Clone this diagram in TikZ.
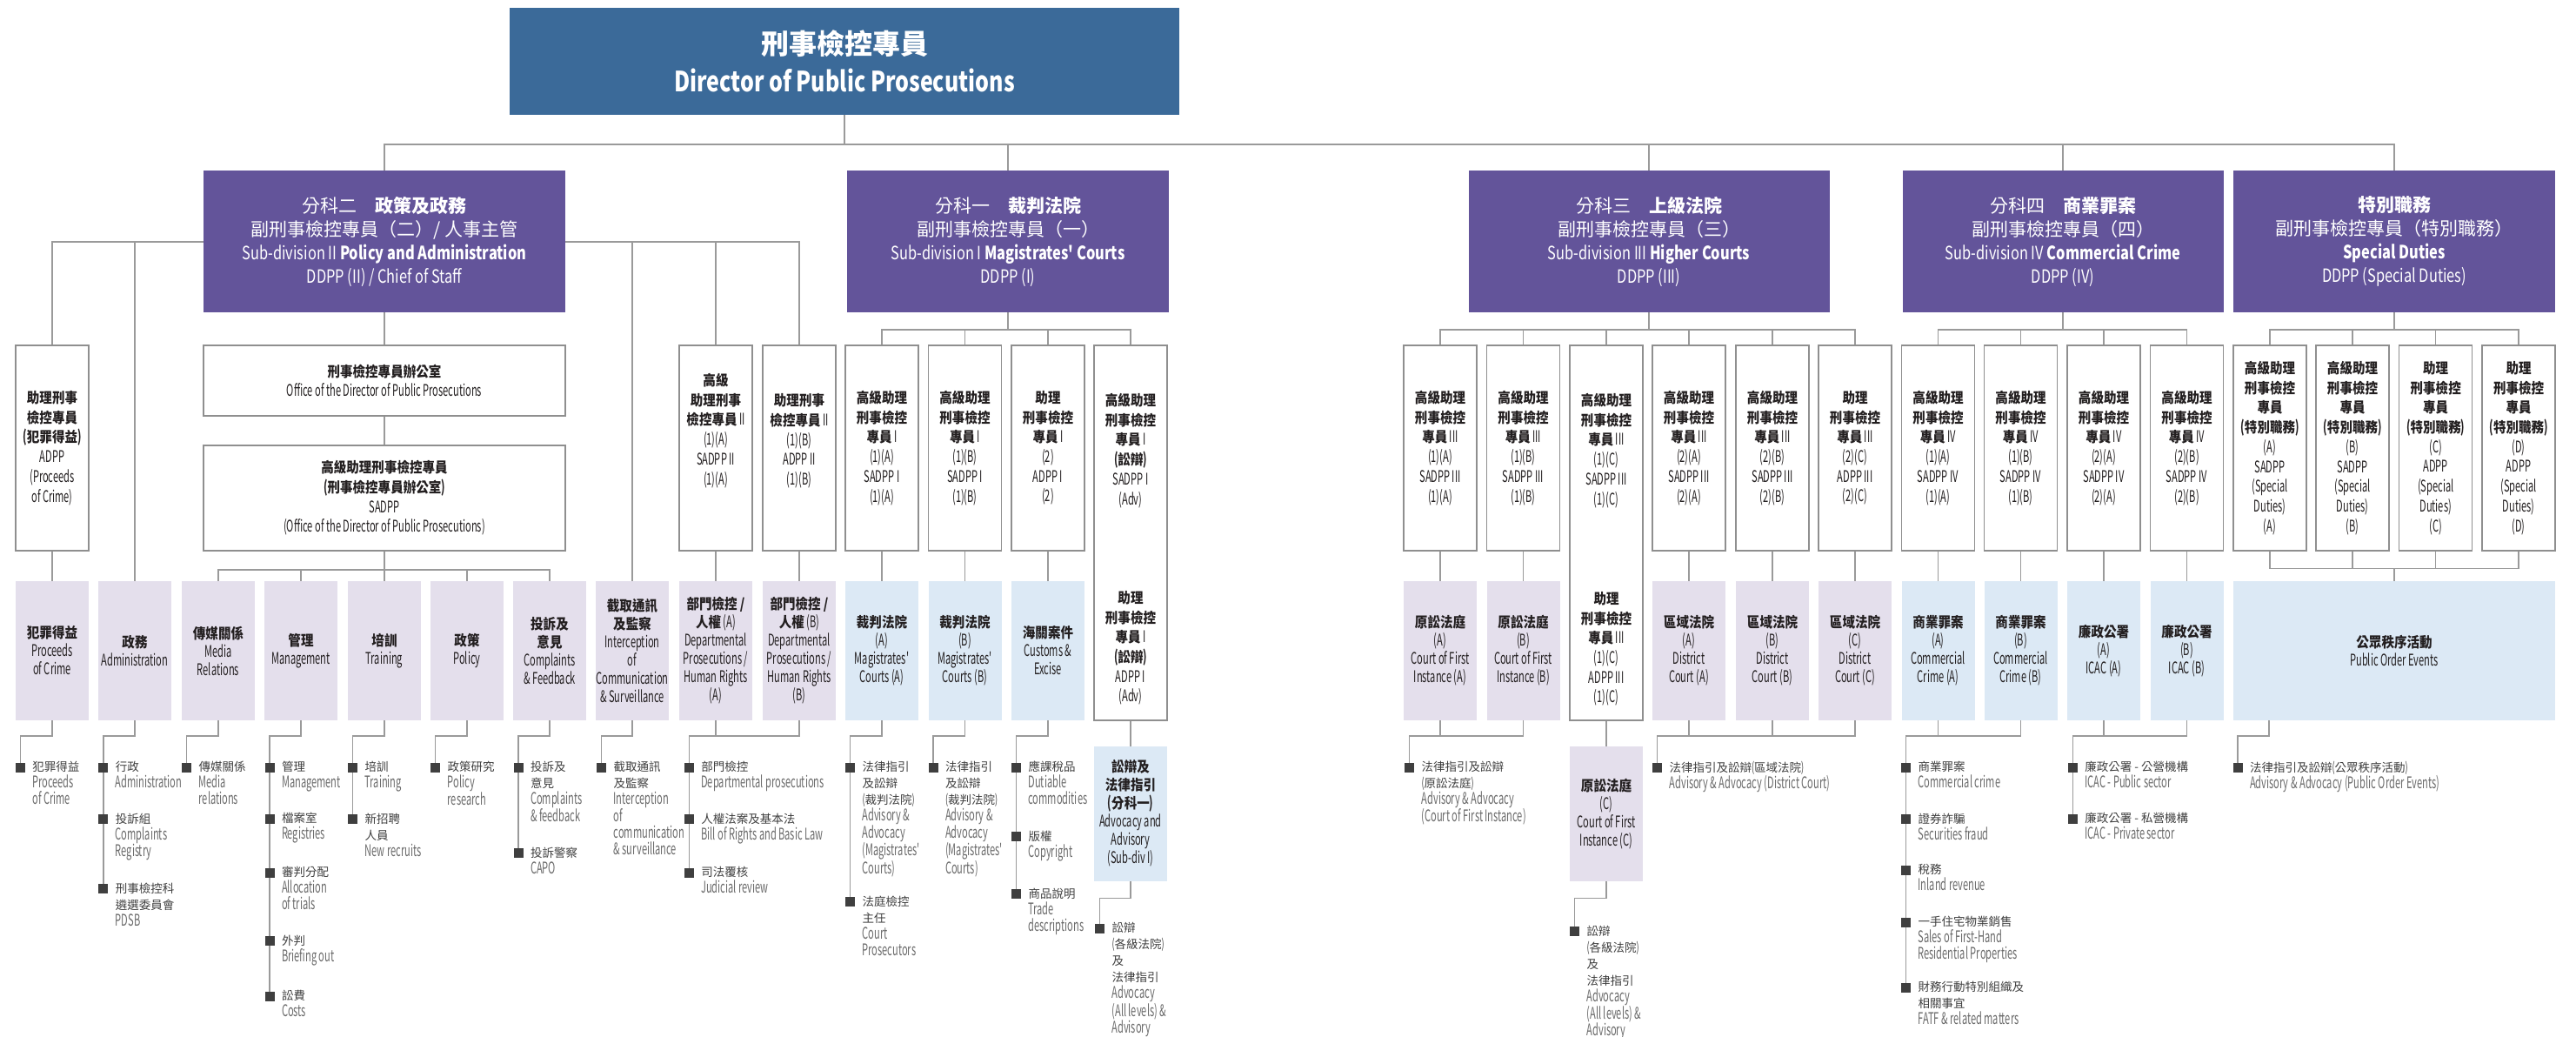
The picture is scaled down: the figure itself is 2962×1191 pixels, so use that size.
\documentclass[tikz,border=0pt]{standalone}
\usepackage{fontspec}
\setmainfont{Noto Sans CJK TC}
\newfontfamily\cjkn{Noto Sans CJK TC}[FakeStretch=0.88]
\newfontfamily\enfont{Noto Sans CJK TC}[FakeStretch=0.6, Scale=1.12]
\newfontfamily\enhfont{Noto Sans CJK TC}[FakeStretch=0.78]
\usetikzlibrary{backgrounds}

\definecolor{c3b6a99}{RGB}{59,106,153}
\definecolor{c63549a}{RGB}{99,84,154}
\definecolor{ce4dfec}{RGB}{228,223,236}
\definecolor{cdde9f5}{RGB}{220,233,245}
\definecolor{c9a9a9a}{RGB}{154,154,154}
\definecolor{c8f8f8f}{RGB}{143,143,143}
\definecolor{c3f3f3f}{RGB}{63,63,63}
\definecolor{c6b6b6b}{RGB}{107,107,107}
\definecolor{c231f20}{RGB}{35,31,32}

\newcommand\enx[1]{{\enfont #1}}
\newcommand\ehx[1]{{\enhfont #1}}
\newcommand\bex[1]{{\enfont\fontsize{16.5}{19}\selectfont\color{c6b6b6b}#1}}
\newcommand\ppx[1]{\enx{(}#1\enx{)}}
\newcommand\fbx{\cjkn\fontsize{16.5}{22.7}\selectfont}
\newcommand\fcb{\cjkn\fontsize{16.5}{21}\selectfont}
\newcommand\fhd{\fontsize{21}{27}\selectfont}
\newcommand\fbt{\fontsize{13.5}{19}\selectfont}
\newcommand\fdpp{\fontsize{32}{43.5}\selectfont}

\tikzset{
  ln/.style={draw=c9a9a9a, line width=1.5pt},
  wbox/.style={draw=c8f8f8f, line width=1.3pt, fill=white, minimum width=84pt,
    minimum height=236pt, align=center, text=c231f20, font=\fbx},
  wtxt/.style={align=center, text=c231f20, font=\fbx},
  pbox/.style={fill=ce4dfec, minimum width=84pt, minimum height=160pt,
    align=center, text=c231f20, font=\fcb},
  bbox/.style={pbox, fill=cdde9f5},
  hbox/.style={fill=c63549a, minimum height=163pt, align=center, text=white, font=\fhd},
  sq/.style={fill=c3f3f3f, minimum size=11pt},
  btxt/.style={anchor=north west, align=left, text=c3f3f3f, font=\fbt}
}

\begin{document}
\begin{tikzpicture}[x=1pt, y=1pt, yscale=-1, inner sep=0pt, outer sep=0pt]
\useasboundingbox (0,0) rectangle (2962,1191);
\coordinate (bTop) at (0,166);
\coordinate (bII) at (0,278);
\coordinate (bSub) at (0,379);
\coordinate (bOff) at (0,655);
\coordinate (bSD) at (0,653.3);
\coordinate (bBot) at (0,846);
\coordinate (bAdv) at (0,1032.3);

\node[fill=c3b6a99, minimum width=770pt, minimum height=123pt, align=center,
  text=white, font=\fdpp] (dpp) at (971,70.5)
  {\textbf{刑事檢控專員}\\\ehx{\textbf{Director of Public Prosecutions}}};

\node[hbox, minimum width=416pt] (hII) at (442,277.5) {分科二\quad\textbf{政策及政務}\\
  副刑事檢控專員（二）/ 人事主管\\\ehx{Sub-division II \textbf{Policy and Administration}}\\
  \ehx{DDPP (II) / Chief of Staff}};
\node[hbox, minimum width=370pt] (hI) at (1159,277.5) {分科一\quad\textbf{裁判法院}\\
  副刑事檢控專員（一）\\\ehx{Sub-division I \textbf{Magistrates' Courts}}\\\ehx{DDPP (I)}};
\node[hbox, minimum width=415pt] (hIII) at (1896,277.5) {分科三\quad\textbf{上級法院}\\
  副刑事檢控專員（三）\\\ehx{Sub-division III \textbf{Higher Courts}}\\\ehx{DDPP (III)}};
\node[hbox, minimum width=369pt] (hIV) at (2372,277.5) {分科四\quad\textbf{商業罪案}\\
  副刑事檢控專員（四）\\\ehx{Sub-division IV \textbf{Commercial Crime}}\\\ehx{DDPP (IV)}};
\node[hbox, minimum width=370pt] (hSD) at (2753,277.5) {\textbf{特別職務}\\
  副刑事檢控專員（特別職務）\\\ehx{\textbf{Special Duties}}\\\ehx{DDPP (Special Duties)}};

\node[wbox] (poc) at (60,515) {\textbf{助理刑事}\\\textbf{檢控專員}\\\textbf{\ppx{犯罪得益}}\\
  \enx{ADPP}\\\enx{(Proceeds}\\\enx{of Crime)}};
\node[wbox, minimum width=416pt, minimum height=81pt] (off) at (442,437.5)
  {\textbf{刑事檢控專員辦公室}\\\enx{Office of the Director of Public Prosecutions}};
\node[wbox, minimum width=416pt, minimum height=121pt] (sad) at (442,572.5)
  {\textbf{高級助理刑事檢控專員}\\\textbf{\ppx{刑事檢控專員辦公室}}\\\enx{SADPP}\\
  \enx{(Office of the Director of Public Prosecutions)}};
\node[wbox] (sIIa) at (823,515) {};
\node[wtxt] (sIIat) at (823,495) {\textbf{高級}\\\textbf{助理刑事}\\\textbf{檢控專員}\enx{ II}\\
  \enx{(1)(A)}\\\enx{SADPP II}\\\enx{(1)(A)}};
\node[wbox] (sIIb) at (919,515) {};
\node[wtxt] (sIIbt) at (919,507) {\textbf{助理刑事}\\\textbf{檢控專員}\enx{ II}\\
  \enx{(1)(B)}\\\enx{ADPP II}\\\enx{(1)(B)}};

\node[wbox] (sIa) at (1014,515) {\textbf{高級助理}\\\textbf{刑事檢控}\\\textbf{專員}\enx{ I}\\
  \enx{(1)(A)}\\\enx{SADPP I}\\\enx{(1)(A)}};
\node[wbox] (sIb) at (1109.5,515) {\textbf{高級助理}\\\textbf{刑事檢控}\\\textbf{專員}\enx{ I}\\
  \enx{(1)(B)}\\\enx{SADPP I}\\\enx{(1)(B)}};
\node[wbox] (sIc) at (1205,515) {\textbf{助理}\\\textbf{刑事檢控}\\\textbf{專員}\enx{ I}\\
  \enx{(2)}\\\enx{ADPP I}\\\enx{(2)}};
\node[wbox, minimum height=431pt] (sId) at (1300,612.5) {};
\node[wtxt] (sIdt) at (1300,518) {\textbf{高級助理}\\\textbf{刑事檢控}\\\textbf{專員}\enx{ I}\\
  \textbf{\ppx{訟辯}}\\\enx{SADPP I}\\\enx{(Adv)}};
\node[wtxt] (sIdu) at (1300,745) {\textbf{助理}\\\textbf{刑事檢控}\\\textbf{專員}\enx{ I}\\
  \textbf{\ppx{訟辯}}\\\enx{ADPP I}\\\enx{(Adv)}};

\node[wbox] (sIIIa) at (1656,515) {\textbf{高級助理}\\\textbf{刑事檢控}\\\textbf{專員}\enx{ III}\\
  \enx{(1)(A)}\\\enx{SADPP III}\\\enx{(1)(A)}};
\node[wbox] (sIIIb) at (1751.5,515) {\textbf{高級助理}\\\textbf{刑事檢控}\\\textbf{專員}\enx{ III}\\
  \enx{(1)(B)}\\\enx{SADPP III}\\\enx{(1)(B)}};
\node[wbox, minimum height=431pt] (sIIIc) at (1847,612.5) {};
\node[wtxt] (sIIIct) at (1847,518) {\textbf{高級助理}\\\textbf{刑事檢控}\\\textbf{專員}\enx{ III}\\
  \enx{(1)(C)}\\\enx{SADPP III}\\\enx{(1)(C)}};
\node[wtxt] (sIIIcu) at (1847,746) {\textbf{助理}\\\textbf{刑事檢控}\\\textbf{專員}\enx{ III}\\
  \enx{(1)(C)}\\\enx{ADPP III}\\\enx{(1)(C)}};
\node[wbox] (sIIId) at (1942,515) {\textbf{高級助理}\\\textbf{刑事檢控}\\\textbf{專員}\enx{ III}\\
  \enx{(2)(A)}\\\enx{SADPP III}\\\enx{(2)(A)}};
\node[wbox] (sIIIe) at (2038,515) {\textbf{高級助理}\\\textbf{刑事檢控}\\\textbf{專員}\enx{ III}\\
  \enx{(2)(B)}\\\enx{SADPP III}\\\enx{(2)(B)}};
\node[wbox] (sIIIf) at (2133,515) {\textbf{助理}\\\textbf{刑事檢控}\\\textbf{專員}\enx{ III}\\
  \enx{(2)(C)}\\\enx{ADPP III}\\\enx{(2)(C)}};

\node[wbox] (sIVa) at (2228.5,515) {\textbf{高級助理}\\\textbf{刑事檢控}\\\textbf{專員}\enx{ IV}\\
  \enx{(1)(A)}\\\enx{SADPP IV}\\\enx{(1)(A)}};
\node[wbox] (sIVb) at (2323.5,515) {\textbf{高級助理}\\\textbf{刑事檢控}\\\textbf{專員}\enx{ IV}\\
  \enx{(1)(B)}\\\enx{SADPP IV}\\\enx{(1)(B)}};
\node[wbox] (sIVc) at (2419,515) {\textbf{高級助理}\\\textbf{刑事檢控}\\\textbf{專員}\enx{ IV}\\
  \enx{(2)(A)}\\\enx{SADPP IV}\\\enx{(2)(A)}};
\node[wbox] (sIVd) at (2514.5,515) {\textbf{高級助理}\\\textbf{刑事檢控}\\\textbf{專員}\enx{ IV}\\
  \enx{(2)(B)}\\\enx{SADPP IV}\\\enx{(2)(B)}};

\node[wbox] (sdA) at (2610,515) {\textbf{高級助理}\\\textbf{刑事檢控}\\\textbf{專員}\\
  \textbf{\ppx{特別職務}}\\\enx{(A)}\\\enx{SADPP}\\\enx{(Special}\\\enx{Duties)}\\\enx{(A)}};
\node[wbox] (sdB) at (2705,515) {\textbf{高級助理}\\\textbf{刑事檢控}\\\textbf{專員}\\
  \textbf{\ppx{特別職務}}\\\enx{(B)}\\\enx{SADPP}\\\enx{(Special}\\\enx{Duties)}\\\enx{(B)}};
\node[wbox] (sdC) at (2800.7,515) {\textbf{助理}\\\textbf{刑事檢控}\\\textbf{專員}\\
  \textbf{\ppx{特別職務}}\\\enx{(C)}\\\enx{ADPP}\\\enx{(Special}\\\enx{Duties)}\\\enx{(C)}};
\node[wbox] (sdD) at (2896,515) {\textbf{助理}\\\textbf{刑事檢控}\\\textbf{專員}\\
  \textbf{\ppx{特別職務}}\\\enx{(D)}\\\enx{ADPP}\\\enx{(Special}\\\enx{Duties)}\\\enx{(D)}};

\node[pbox] (pocC) at (60,748) {\textbf{犯罪得益}\\\enx{Proceeds}\\\enx{of Crime}};
\node[pbox] (adm) at (155,748) {\textbf{政務}\\\enx{Administration}};
\node[pbox] (med) at (251,748) {\textbf{傳媒關係}\\\enx{Media}\\\enx{Relations}};
\node[pbox] (mgt) at (346,748) {\textbf{管理}\\\enx{Management}};
\node[pbox] (trn) at (442,748) {\textbf{培訓}\\\enx{Training}};
\node[pbox] (pol) at (537,748) {\textbf{政策}\\\enx{Policy}};
\node[pbox] (cpl) at (632,748) {\textbf{投訴及}\\\textbf{意見}\\\enx{Complaints}\\\enx{\& Feedback}};
\node[pbox] (ics) at (727,748) {\textbf{截取通訊}\\\textbf{及監察}\\\enx{Interception}\\\enx{of}\\
  \enx{Communication}\\\enx{\& Surveillance}};
\node[pbox] (dpA) at (823,748) {\textbf{部門檢控 /}\\\textbf{人權}\enx{ (A)}\\\enx{Departmental}\\
  \enx{Prosecutions /}\\\enx{Human Rights}\\\enx{(A)}};
\node[pbox] (dpB) at (919,748) {\textbf{部門檢控 /}\\\textbf{人權}\enx{ (B)}\\\enx{Departmental}\\
  \enx{Prosecutions /}\\\enx{Human Rights}\\\enx{(B)}};
\node[bbox] (mcA) at (1014,748) {\textbf{裁判法院}\\\enx{(A)}\\\enx{Magistrates'}\\\enx{Courts (A)}};
\node[bbox] (mcB) at (1109.5,748) {\textbf{裁判法院}\\\enx{(B)}\\\enx{Magistrates'}\\\enx{Courts (B)}};
\node[bbox] (cus) at (1205,748) {\textbf{海關案件}\\\enx{Customs \&}\\\enx{Excise}};
\node[pbox] (cfA) at (1656,748) {\textbf{原訟法庭}\\\enx{(A)}\\\enx{Court of First}\\\enx{Instance (A)}};
\node[pbox] (cfB) at (1751.5,748) {\textbf{原訟法庭}\\\enx{(B)}\\\enx{Court of First}\\\enx{Instance (B)}};
\node[pbox] (dcA) at (1942,748) {\textbf{區域法院}\\\enx{(A)}\\\enx{District}\\\enx{Court (A)}};
\node[pbox] (dcB) at (2038,748) {\textbf{區域法院}\\\enx{(B)}\\\enx{District}\\\enx{Court (B)}};
\node[pbox] (dcC) at (2133,748) {\textbf{區域法院}\\\enx{(C)}\\\enx{District}\\\enx{Court (C)}};
\node[bbox] (ccA) at (2228.5,748) {\textbf{商業罪案}\\\enx{(A)}\\\enx{Commercial}\\\enx{Crime (A)}};
\node[bbox] (ccB) at (2323.5,748) {\textbf{商業罪案}\\\enx{(B)}\\\enx{Commercial}\\\enx{Crime (B)}};
\node[bbox] (icA) at (2419,748) {\textbf{廉政公署}\\\enx{(A)}\\\enx{ICAC (A)}};
\node[bbox] (icB) at (2514.5,748) {\textbf{廉政公署}\\\enx{(B)}\\\enx{ICAC (B)}};
\node[bbox, minimum width=370pt] (poe) at (2753,748) {\textbf{公眾秩序活動}\\\enx{Public Order Events}};

\node[bbox, minimum height=155pt] (adv) at (1300,935.2) {\textbf{訟辯及}\\\textbf{法律指引}\\
  \textbf{\ppx{分科一}}\\\enx{Advocacy and}\\\enx{Advisory}\\\enx{(Sub-div I)}};
\node[pbox, minimum height=155pt] (cfC) at (1847,935.2) {\textbf{原訟法庭}\\\enx{(C)}\\
  \enx{Court of First}\\\enx{Instance (C)}};

\node[sq] (pPoc1) at (23.3,882) {};
\node[btxt] (tPoc1) at (37.3,875) {犯罪得益\\\bex{Proceeds}\\\bex{of Crime}};
\node[sq] (pAdm1) at (118.8,882) {};
\node[btxt] (tAdm1) at (132.8,875) {行政\\\bex{Administration}};
\node[sq] (pAdm2) at (118.8,941.7) {};
\node[btxt] (tAdm2) at (132.8,934.7) {投訴組\\\bex{Complaints}\\\bex{Registry}};
\node[sq] (pAdm3) at (118.8,1021.7) {};
\node[btxt] (tAdm3) at (132.8,1014.7) {刑事檢控科\\遴選委員會\\\bex{PDSB}};
\node[sq] (pMed1) at (214.7,882) {};
\node[btxt] (tMed1) at (228.7,875) {傳媒關係\\\bex{Media}\\\bex{relations}};
\node[sq] (pMgt1) at (310,882) {};
\node[btxt] (tMgt1) at (324,875) {管理\\\bex{Management}};
\node[sq] (pMgt2) at (310,941) {};
\node[btxt] (tMgt2) at (324,934) {檔案室\\\bex{Registries}};
\node[sq] (pMgt3) at (310,1003) {};
\node[btxt] (tMgt3) at (324,996) {審判分配\\\bex{Allocation}\\\bex{of trials}};
\node[sq] (pMgt4) at (310,1081.7) {};
\node[btxt] (tMgt4) at (324,1074.7) {外判\\\bex{Briefing out}};
\node[sq] (pMgt5) at (310,1145) {};
\node[btxt] (tMgt5) at (324,1138) {訟費\\\bex{Costs}};
\node[sq] (pTrn1) at (405.7,882) {};
\node[btxt] (tTrn1) at (419.7,875) {培訓\\\bex{Training}};
\node[sq] (pTrn2) at (405.7,941.7) {};
\node[btxt] (tTrn2) at (419.7,934.7) {新招聘\\人員\\\bex{New recruits}};
\node[sq] (pPol1) at (500.7,882) {};
\node[btxt] (tPol1) at (514.7,875) {政策研究\\\bex{Policy}\\\bex{research}};
\node[sq] (pCpl1) at (596,882) {};
\node[btxt] (tCpl1) at (610,875) {投訴及\\意見\\\bex{Complaints}\\\bex{\& feedback}};
\node[sq] (pCpl2) at (596,980.7) {};
\node[btxt] (tCpl2) at (610,973.7) {投訴警察\\\bex{CAPO}};
\node[sq] (pIcs1) at (691.7,882) {};
\node[btxt] (tIcs1) at (705.7,875) {截取通訊\\及監察\\\bex{Interception}\\\bex{of}\\
  \bex{communication}\\\bex{\& surveillance}};
\node[sq] (pDp1) at (792.3,882) {};
\node[btxt] (tDp1) at (806.3,875) {部門檢控\\\bex{Departmental prosecutions}};
\node[sq] (pDp2) at (792.3,941.7) {};
\node[btxt] (tDp2) at (806.3,934.7) {人權法案及基本法\\\bex{Bill of Rights and Basic Law}};
\node[sq] (pDp3) at (792.3,1003.3) {};
\node[btxt] (tDp3) at (806.3,996.3) {司法覆核\\\bex{Judicial review}};
\node[sq] (pMcA1) at (977.5,882) {};
\node[btxt] (tMcA1) at (991.5,875) {法律指引\\及訟辯\\\ppx{裁判法院}\\\bex{Advisory \&}\\
  \bex{Advocacy}\\\bex{(Magistrates'}\\\bex{Courts)}};
\node[sq] (pMcA2) at (977.5,1036.7) {};
\node[btxt] (tMcA2) at (991.5,1029.7) {法庭檢控\\主任\\\bex{Court}\\\bex{Prosecutors}};
\node[sq] (pMcB1) at (1073,882) {};
\node[btxt] (tMcB1) at (1087,875) {法律指引\\及訟辯\\\ppx{裁判法院}\\\bex{Advisory \&}\\
  \bex{Advocacy}\\\bex{(Magistrates'}\\\bex{Courts)}};
\node[sq] (pCus1) at (1168.5,882) {};
\node[btxt] (tCus1) at (1182.5,875) {應課稅品\\\bex{Dutiable}\\\bex{commodities}};
\node[sq] (pCus2) at (1168.5,961.7) {};
\node[btxt] (tCus2) at (1182.5,954.7) {版權\\\bex{Copyright}};
\node[sq] (pCus3) at (1168.5,1027.7) {};
\node[btxt] (tCus3) at (1182.5,1020.7) {商品說明\\\bex{Trade}\\\bex{descriptions}};
\node[sq] (pAdv1) at (1264.5,1067.3) {};
\node[btxt] (tAdv1) at (1278.5,1060.3) {訟辯\\\ppx{各級法院}\\及\\法律指引\\\bex{Advocacy}\\
  \bex{(All levels) \&}\\\bex{Advisory}};
\node[sq] (pCf1) at (1620.6,882) {};
\node[btxt] (tCf1) at (1634.6,875) {法律指引及訟辯\\\ppx{原訟法庭}\\\bex{Advisory \& Advocacy}\\
  \bex{(Court of First Instance)}};
\node[sq] (pCfC1) at (1810.6,1070.7) {};
\node[btxt] (tCfC1) at (1824.6,1063.7) {訟辯\\\ppx{各級法院}\\及\\法律指引\\\bex{Advocacy}\\
  \bex{(All levels) \&}\\\bex{Advisory}};
\node[sq] (pDc1) at (1905.6,882) {};
\node[btxt] (tDc1) at (1919.6,875) {法律指引及訟辯\ppx{區域法院}\\\bex{Advisory \& Advocacy (District Court)}};
\node[sq] (pCc1) at (2191.6,882) {};
\node[btxt] (tCc1) at (2205.6,875) {商業罪案\\\bex{Commercial crime}};
\node[sq] (pCc2) at (2191.6,941.7) {};
\node[btxt] (tCc2) at (2205.6,934.7) {證券詐騙\\\bex{Securities fraud}};
\node[sq] (pCc3) at (2191.6,1000) {};
\node[btxt] (tCc3) at (2205.6,993) {稅務\\\bex{Inland revenue}};
\node[sq] (pCc4) at (2191.6,1060) {};
\node[btxt] (tCc4) at (2205.6,1053) {一手住宅物業銷售\\\bex{Sales of First-Hand}\\
  \bex{Residential Properties}};
\node[sq] (pCc5) at (2191.6,1135) {};
\node[btxt] (tCc5) at (2205.6,1128) {財務行動特別組織及\\相關事宜\\\bex{FATF \& related matters}};
\node[sq] (pIc1) at (2383.3,882) {};
\node[btxt] (tIc1) at (2397.3,875) {廉政公署 - 公營機構\\\bex{ICAC - Public sector}};
\node[sq] (pIc2) at (2383.3,941) {};
\node[btxt] (tIc2) at (2397.3,934) {廉政公署 - 私營機構\\\bex{ICAC - Private sector}};
\node[sq] (pPoe1) at (2573,882) {};
\node[btxt] (tPoe1) at (2587,875) {法律指引及訟辯\ppx{公眾秩序活動}\\
  \bex{Advisory \& Advocacy (Public Order Events)}};

\begin{pgfonlayer}{background}
  \fill[white] (0,0) rectangle (2962,1191);
  \draw[ln] (dpp.south) -- (dpp.south |- bTop);
  \draw[ln] (hII.north) -- (hII.north |- bTop) -- (hSD.north |- bTop) -- (hSD.north);
  \draw[ln] (hI.north) -- (hI.north |- bTop);
  \draw[ln] (hIII.north) -- (hIII.north |- bTop);
  \draw[ln] (hIV.north) -- (hIV.north |- bTop);

  \draw[ln] (poc.north) -- (poc.north |- bII) -- (sIIb.north |- bII) -- (sIIb.north);
  \draw[ln] (adm.north) -- (adm.north |- bII);
  \draw[ln] (ics.north) -- (ics.north |- bII);
  \draw[ln] (sIIa.north) -- (sIIa.north |- bII);
  \draw[ln] (hII.south) -- (off.north);
  \draw[ln] (off.south) -- (sad.north);
  \draw[ln] (sad.south) -- (trn.north);
  \draw[ln] (med.north) -- (med.north |- bOff) -- (cpl.north |- bOff) -- (cpl.north);
  \draw[ln] (mgt.north) -- (mgt.north |- bOff);
  \draw[ln] (pol.north) -- (pol.north |- bOff);
  \draw[ln] (poc.south) -- (pocC.north);
  \draw[ln] (sIIa.south) -- (dpA.north);
  \draw[ln] (sIIb.south) -- (dpB.north);

  \draw[ln] (hI.south) -- (hI.south |- bSub);
  \draw[ln] (sIa.north) -- (sIa.north |- bSub) -- (sId.north |- bSub) -- (sId.north);
  \draw[ln] (sIb.north) -- (sIb.north |- bSub);
  \draw[ln] (sIc.north) -- (sIc.north |- bSub);
  \draw[ln] (sIa.south) -- (mcA.north);
  \draw[ln] (sIb.south) -- (mcB.north);
  \draw[ln] (sIc.south) -- (cus.north);
  \draw[ln] (sId.south) -- (adv.north);

  \draw[ln] (hIII.south) -- (hIII.south |- bSub);
  \draw[ln] (sIIIa.north) -- (sIIIa.north |- bSub) -- (sIIIf.north |- bSub) -- (sIIIf.north);
  \draw[ln] (sIIIb.north) -- (sIIIb.north |- bSub);
  \draw[ln] (sIIIc.north) -- (sIIIc.north |- bSub);
  \draw[ln] (sIIId.north) -- (sIIId.north |- bSub);
  \draw[ln] (sIIIe.north) -- (sIIIe.north |- bSub);
  \draw[ln] (sIIIa.south) -- (cfA.north);
  \draw[ln] (sIIIb.south) -- (cfB.north);
  \draw[ln] (sIIIc.south) -- (cfC.north);
  \draw[ln] (sIIId.south) -- (dcA.north);
  \draw[ln] (sIIIe.south) -- (dcB.north);
  \draw[ln] (sIIIf.south) -- (dcC.north);

  \draw[ln] (hIV.south) -- (hIV.south |- bSub);
  \draw[ln] (sIVa.north) -- (sIVa.north |- bSub) -- (sIVd.north |- bSub) -- (sIVd.north);
  \draw[ln] (sIVb.north) -- (sIVb.north |- bSub);
  \draw[ln] (sIVc.north) -- (sIVc.north |- bSub);
  \draw[ln] (sIVa.south) -- (ccA.north);
  \draw[ln] (sIVb.south) -- (ccB.north);
  \draw[ln] (sIVc.south) -- (icA.north);
  \draw[ln] (sIVd.south) -- (icB.north);

  \draw[ln] (hSD.south) -- (hSD.south |- bSub);
  \draw[ln] (sdA.north) -- (sdA.north |- bSub) -- (sdD.north |- bSub) -- (sdD.north);
  \draw[ln] (sdB.north) -- (sdB.north |- bSub);
  \draw[ln] (sdC.north) -- (sdC.north |- bSub);
  \draw[ln] (sdA.south) -- (sdA.south |- bSD) -- (sdD.south |- bSD) -- (sdD.south);
  \draw[ln] (sdB.south) -- (sdB.south |- bSD);
  \draw[ln] (sdC.south) -- (sdC.south |- bSD);
  \draw[ln] (poe.north) -- (poe.north |- bSD);

  \draw[ln] (pocC.south) -- (pocC.south |- bBot) -| (pPoc1.center);
  \draw[ln] (adm.south) -- (adm.south |- bBot) -| (pAdm3.center);
  \draw[ln] (med.south) -- (med.south |- bBot) -| (pMed1.center);
  \draw[ln] (mgt.south) -- (mgt.south |- bBot) -| (pMgt5.center);
  \draw[ln] (trn.south) -- (trn.south |- bBot) -| (pTrn2.center);
  \draw[ln] (pol.south) -- (pol.south |- bBot) -| (pPol1.center);
  \draw[ln] (cpl.south) -- (cpl.south |- bBot) -| (pCpl2.center);
  \draw[ln] (ics.south) -- (ics.south |- bBot) -| (pIcs1.center);
  \draw[ln] (dpB.south) -- (dpB.south |- bBot) -| (pDp3.center);
  \draw[ln] (dpA.south) -- (dpA.south |- bBot);
  \draw[ln] (mcA.south) -- (mcA.south |- bBot) -| (pMcA2.center);
  \draw[ln] (mcB.south) -- (mcB.south |- bBot) -| (pMcB1.center);
  \draw[ln] (cus.south) -- (cus.south |- bBot) -| (pCus3.center);
  \draw[ln] (adv.south) -- (adv.south |- bAdv) -| (pAdv1.center);
  \draw[ln] (cfB.south) -- (cfB.south |- bBot) -| (pCf1.center);
  \draw[ln] (cfA.south) -- (cfA.south |- bBot);
  \draw[ln] (cfC.south) -- (cfC.south |- bAdv) -| (pCfC1.center);
  \draw[ln] (dcC.south) -- (dcC.south |- bBot) -| (pDc1.center);
  \draw[ln] (dcA.south) -- (dcA.south |- bBot);
  \draw[ln] (dcB.south) -- (dcB.south |- bBot);
  \draw[ln] (ccB.south) -- (ccB.south |- bBot) -| (pCc5.center);
  \draw[ln] (ccA.south) -- (ccA.south |- bBot);
  \draw[ln] (icB.south) -- (icB.south |- bBot) -| (pIc2.center);
  \draw[ln] (icA.south) -- (icA.south |- bBot);
  \coordinate (poeL) at ([xshift=41pt]poe.south west);
  \draw[ln] (poeL) -- (poeL |- bBot) -| (pPoe1.center);
\end{pgfonlayer}
\end{tikzpicture}
\end{document}
